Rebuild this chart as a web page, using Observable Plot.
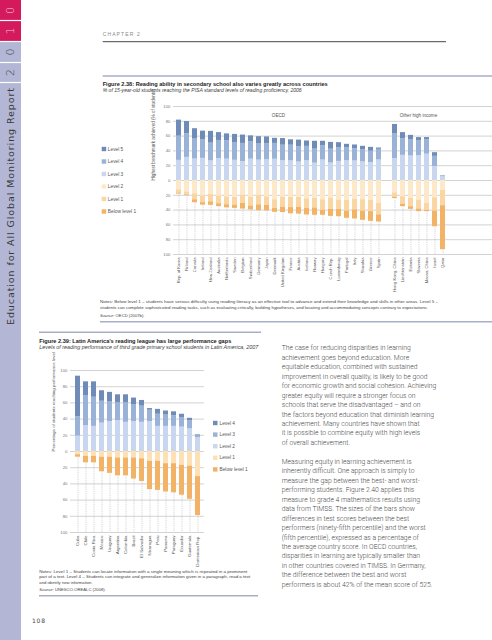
<!DOCTYPE html>
<html><head><meta charset="utf-8">
<script src="https://cdn.jsdelivr.net/npm/d3@7"></script>
<script src="https://cdn.jsdelivr.net/npm/@observablehq/plot@0.6"></script>
<style>
html,body{margin:0;padding:0;background:#fff;}
#page{position:relative;width:492px;height:640px;overflow:hidden;background:#fff;}
#deco{position:absolute;left:0;top:0;}
#c1{position:absolute;left:140px;top:100px;}
#c2{position:absolute;left:40px;top:360px;}
</style></head><body>
<div id="page"><svg id="deco" width="492" height="640"></svg><div id="c1"></div><div id="c2"></div></div>
<script>
// ---------- Figure 2.38 data (PISA 2006 reading, % of students) ----------
const countries38 = ["Rep. of Korea","Finland","Canada","Ireland","New Zealand","Australia","Netherlands","Sweden","Belgium","Switzerland","Germany","Japan","Denmark","United Kingdom","France","Austria","Iceland","Norway","Hungary","Czech Rep.","Luxembourg","Portugal","Italy","Slovakia","Greece","Spain","Hong Kong, China","Liechtenstein","Estonia","Slovenia","Macao, China","Israel","Qatar"];
const oecdCount38 = 26;
const level5_38 = [21.7,16.7,14.0,11.7,15.9,10.6,9.1,11.0,11.3,7.9,9.9,9.4,6.9,9.0,7.3,8.9,7.3,10.6,6.0,9.2,6.7,4.6,5.2,5.0,5.2,1.8,12.8,8.2,6.1,4.6,2.9,5.0,0.3];
const level4_38 = [32.7,31.8,27.0,25.1,24.0,24.5,25.1,24.0,24.5,23.6,21.8,21.5,21.4,20.7,21.2,20.7,19.5,19.0,19.4,18.7,18.6,17.3,16.4,16.1,15.4,14.4,33.2,22.5,21.7,20.0,19.5,13.6,1.2];
const level3_38 = [27.2,31.2,29.0,29.9,26.5,29.6,28.8,27.3,25.6,28.8,27.5,28.0,28.7,27.0,26.5,25.0,26.6,23.4,27.6,23.6,25.8,27.0,26.4,25.1,24.2,27.7,29.7,34.0,33.2,33.4,35.6,19.0,5.0];
const level2_38 = [12.5,15.5,18.0,21.0,19.0,21.5,22.2,22.9,19.8,22.6,20.6,22.0,26.0,22.7,22.8,23.0,25.0,24.1,26.0,23.7,26.3,27.0,25.7,25.9,27.0,30.9,16.7,21.9,24.0,26.5,30.8,23.4,13.5];
const level1_38 = [4.4,4.0,8.0,8.9,9.8,9.9,10.5,10.4,11.2,11.8,12.3,11.7,11.7,13.3,13.8,13.0,12.9,13.0,14.2,15.2,12.9,14.3,14.0,15.5,15.0,15.5,5.8,10.0,11.4,12.0,9.6,18.0,20.5];
const below1_38 = [1.5,0.8,4.0,3.4,4.8,3.9,4.3,4.4,7.6,5.3,7.9,7.4,5.3,7.3,8.4,9.4,8.7,9.9,6.8,9.6,9.7,9.8,12.3,12.4,13.2,9.7,1.8,3.4,3.6,3.5,1.6,21.0,59.5];
const levels38 = ["Level 5","Level 4","Level 3","Level 2","Level 1","Below level 1"];
const colors38 = ["#6f8cb9","#9ab2d8","#c8d7ef","#fde8c9","#fad6a2","#f2b367"];
const groupNames38 = ["OECD","Other high income"];

// ---------- Figure 2.39 data (SERCE, grade 3 reading, % of students) ----------
const countries39 = ["Cuba","Chile","Costa Rica","Mexico","Uruguay","Argentina","Colombia","Brazil","El Salvador","Nicaragua","Peru","Panama","Paraguay","Ecuador","Guatemala","Dominican Rep."];
const level4_39 = [50,17,19,13,12,10,10,8,7,2,6,5,5,4,3,0.5];
const level3_39 = [24,37,36,27,24,22,24,21,20,14,15,14,13,12,10,3.5];
const level2_39 = [19,32,31,35,37,38,36,37,36,37,31,31,31,30,28,17];
const level1_39 = [4,6,6,7,7,8,8,8,9,12,12,15,15,17,18,31];
const below1_39 = [3,8,8,18,20,22,22,26,28,35,36,35,36,37,41,48];
const levels39 = ["Level 4","Level 3","Level 2","Level 1","Below level 1"];
const colors39 = ["#6f8cb9","#9ab2d8","#c8d7ef","#fde0b3","#f2b367"];

const yTicks = d3.range(-100, 101, 20);

// ---------- page decoration / text ----------
const deco = d3.select("#deco");
const LAV = "#b3b7d5", PINK = "#d41a5c";
deco.append("rect").attr("x",0).attr("y",0).attr("width",21).attr("height",640).attr("fill",LAV);
deco.append("rect").attr("x",0).attr("y",0).attr("width",21).attr("height",41).attr("fill",PINK);
[20.5,41.5,62.5,82.5].forEach(y=>deco.append("line").attr("x1",0).attr("x2",21).attr("y1",y).attr("y2",y).attr("stroke","#fff").attr("stroke-width",1.2));
const digits = [["0",10.5,"#f6c6d6"],["1",31,"#f6c6d6"],["0",52,"#3a3a3a"],["2",72.5,"#3a3a3a"]];
digits.forEach(([t,y,c])=>deco.append("text").text(t).attr("transform",`translate(10.5,${y}) rotate(-90)`)
  .attr("text-anchor","middle").attr("dominant-baseline","central").attr("fill",c)
  .attr("font-family","DejaVu Sans").attr("font-size",11).attr("font-weight",300));
deco.append("text").text("Education for All Global Monitoring Report")
  .attr("transform","translate(10.8,325) rotate(-90)").attr("dominant-baseline","central")
  .attr("font-family","DejaVu Sans").attr("font-size",9.5).attr("fill","#3a3a3a")
  .attr("textLength",237).attr("lengthAdjust","spacing");

function txt(s, x, y, o={}) {
  const t = deco.append("text").attr("x",x).attr("y",y).attr("dominant-baseline","central")
    .attr("font-family", o.family || "Liberation Sans, Arial, sans-serif")
    .attr("font-size", o.size || 5).attr("fill", o.fill || "#333");
  if (o.weight) t.attr("font-weight", o.weight);
  if (o.style) t.attr("font-style", o.style);
  if (o.len) t.attr("textLength", o.len).attr("lengthAdjust", o.adj || "spacingAndGlyphs");
  if (o.ls) t.attr("letter-spacing", o.ls);
  if (Array.isArray(s)) s.forEach(([p,st])=>{ const ts=t.append("tspan").text(p); if(st) ts.attr("font-style",st); });
  else t.text(s);
  return t;
}
function hline(x1,x2,y,c,w){deco.append("line").attr("x1",x1).attr("x2",x2).attr("y1",y).attr("y2",y).attr("stroke",c).attr("stroke-width",w);}

txt("CHAPTER 2", 102.7, 34, {size:5, fill:"#8a8a8a", len:37, adj:"spacing"});
hline(102.7, 446, 41.7, "#333", 0.9);

hline(102.7, 492, 76, "#a9aec8", 1.6);
txt("Figure 2.38: Reading ability in secondary school also varies greatly across countries", 102.7, 83, {size:6.2, weight:"bold", fill:"#222", len:225});
txt("% of 15-year-old students reaching the PISA standard levels of reading proficiency, 2006", 102.7, 89.5, {size:5.2, style:"italic", fill:"#444", len:199});

// legend 2.38
levels38.forEach((l,i)=>{
  const y = 149 + i*12.5;
  deco.append("rect").attr("x",101.7).attr("y",y-2.2).attr("width",4.5).attr("height",4.4).attr("fill",colors38[i]);
  txt(l, 107.8, y, {size:4.8, fill:"#555"});
});

txt("Notes: Below level 1 \u2013 students have serious difficulty using reading literacy as an effective tool to advance and extend their knowledge and skills in other areas. Level 5 \u2013", 100, 301.7, {size:4.2, fill:"#444", len:338});
txt("students can complete sophisticated reading tasks, such as evaluating critically, building hypotheses, and locating and accommodating concepts contrary to expectations.", 100, 307.3, {size:4.2, fill:"#444", len:328});
txt([["Source:","italic"],[" OECD (2007b).",null]], 100, 314.7, {size:4.2, fill:"#444"});
hline(100, 492, 321.7, "#a9aec8", 1.6);

hline(39, 261, 332.3, "#a9aec8", 1.6);
txt("Figure 2.39: Latin America\u2019s reading league has large performance gaps", 39.3, 340, {size:6.2, weight:"bold", fill:"#222", len:192});
txt("Levels of reading performance of third grade primary school students in Latin America, 2007", 39.3, 346.7, {size:5.2, style:"italic", fill:"#444", len:219});

levels39.forEach((l,i)=>{
  const y = 423 + i*11.6;
  deco.append("rect").attr("x",213).attr("y",y-2.2).attr("width",4.5).attr("height",4.4).attr("fill",colors39[i]);
  txt(l, 219.5, y, {size:4.8, fill:"#555"});
});

txt("Notes: Level 1 \u2013 Students can locate information with a single meaning which is repeated in a prominent", 39.3, 571, {size:4.2, fill:"#444", len:208});
txt("part of a text. Level 4 \u2013 Students can integrate and generalize information given in a paragraph, read a text", 39.3, 576.7, {size:4.2, fill:"#444", len:211});
txt("and identify new information.", 39.3, 582.3, {size:4.2, fill:"#444"});
txt([["Source:","italic"],[" UNESCO-OREALC (2008).",null]], 39.3, 589.3, {size:4.2, fill:"#444"});
hline(39, 258, 595.7, "#a9aec8", 1.6);

txt("108", 32, 620, {size:6, fill:"#444", ls:0.8, family:"DejaVu Sans"});

const body1 = ["The case for reducing disparities in learning","achievement goes beyond education. More","equitable education, combined with sustained","improvement in overall quality, is likely to be good","for economic growth and social cohesion. Achieving","greater equity will require a stronger focus on","schools that serve the disadvantaged \u2013 and on","the factors beyond education that diminish learning","achievement. Many countries have shown that","it is possible to combine equity with high levels","of overall achievement."];
const body2 = ["Measuring equity in learning achievement is","inherently difficult. One approach is simply to","measure the gap between the best- and worst-","performing students. Figure 2.40 applies this","measure to grade 4 mathematics results using","data from TIMSS. The sizes of the bars show","differences in test scores between the best","performers (ninety-fifth percentile) and the worst","(fifth percentile), expressed as a percentage of","the average country score. In OECD countries,","disparities in learning are typically smaller than","in other countries covered in TIMSS. In Germany,","the difference between the best and worst","performers is about 42% of the mean score of 525."];
[...body1, null, ...body2].forEach((s,i)=>{ if(s) txt(s, 281.7, 348.3 + i*9.46, {size:6.8, fill:"#4a4a4a", family:"Roboto, sans-serif", weight:300}); });

// ---------- Chart 1 ----------
const rows38 = [];
countries38.forEach((c,i)=>{
  rows38.push({c, s:"Level 3", v: level3_38[i]});
  rows38.push({c, s:"Level 4", v: level4_38[i]});
  rows38.push({c, s:"Level 5", v: level5_38[i]});
  rows38.push({c, s:"Level 2", v: -level2_38[i]});
  rows38.push({c, s:"Level 1", v: -level1_38[i]});
  rows38.push({c, s:"Below level 1", v: -below1_38[i]});
});
const neg38 = countries38.map((c,i)=>({c, n: -(level2_38[i]+level1_38[i]+below1_38[i])}));
const slots38 = [...countries38.slice(0,oecdCount38), " ", ...countries38.slice(oecdCount38)];
const font = "Liberation Sans, Arial, sans-serif";

const chart1 = Plot.plot({
  width: 352, height: 200, marginLeft: 33, marginRight: 0, marginTop: 6, marginBottom: 46,
  style: {fontFamily: font, background: "transparent", overflow: "visible"},
  x: {type: "band", domain: slots38, range: [31.55, 308.95], padding: 0.35},
  y: {domain: [-100, 100], range: [154, 6]},
  color: {domain: levels38, range: colors38},
  marks: [
    Plot.ruleY(yTicks, {stroke: "#c8c8c8", strokeWidth: 0.8}),
    Plot.ruleX(neg38, {x: "c", y1: "n", y2: -100, stroke: "#a8a8a8", strokeWidth: 0.5, strokeDasharray: "1.2,1"}),
    Plot.barY(rows38, {x: "c", y: "v", fill: "s"}),
    Plot.axisY({ticks: yTicks, tickFormat: d => Math.abs(d), tickSize: 0, tickPadding: 3, fontSize: 4.3, fill: "#777", label: null}),
    Plot.axisX({tickRotate: -90, tickSize: 0, tickPadding: 3, fontSize: 4.2, fill: "#555", label: null, tickFormat: d => d.trim()}),
    Plot.text(["Highest benchmark achieved (% of students)"], {frameAnchor: "left", rotate: -90, dx: -20, fontSize: 4.6, fill: "#555"})
  ]
});
document.getElementById("c1").appendChild(chart1);
{
  const xs = chart1.scale("x");
  const groups = [[countries38[0], countries38[oecdCount38-1]], [countries38[oecdCount38], countries38[countries38.length-1]]];
  groups.forEach(([a,b],i)=>{
    const cx = (xs.apply(a) + xs.apply(b))/2 + xs.bandwidth/2;
    d3.select(chart1).append("text").attr("x", cx).attr("y", 15).attr("text-anchor","middle")
      .attr("dominant-baseline","central").attr("font-size",4.6).attr("fill","#555").attr("font-family",font).text(groupNames38[i]);
  });
}

// ---------- Chart 2 ----------
const rows39 = [];
countries39.forEach((c,i)=>{
  rows39.push({c, s:"Level 2", v: level2_39[i]});
  rows39.push({c, s:"Level 3", v: level3_39[i]});
  rows39.push({c, s:"Level 4", v: level4_39[i]});
  rows39.push({c, s:"Level 1", v: -level1_39[i]});
  rows39.push({c, s:"Below level 1", v: -below1_39[i]});
});
const neg39 = countries39.map((c,i)=>({c, n: -(level1_39[i]+below1_39[i])}));
const chart2 = Plot.plot({
  width: 170, height: 210, marginLeft: 30, marginRight: 6, marginTop: 10, marginBottom: 38,
  style: {fontFamily: font, background: "transparent", overflow: "visible"},
  x: {type: "band", domain: countries39, range: [32.07, 163.73], padding: 0.35},
  y: {domain: [-100, 100], range: [172, 10]},
  color: {domain: levels39, range: colors39},
  marks: [
    Plot.ruleY(yTicks, {stroke: "#c8c8c8", strokeWidth: 0.8}),
    Plot.ruleX(neg39, {x: "c", y1: "n", y2: -100, stroke: "#a8a8a8", strokeWidth: 0.5, strokeDasharray: "1.2,1"}),
    Plot.barY(rows39, {x: "c", y: "v", fill: "s"}),
    Plot.axisY({ticks: yTicks, tickFormat: d => Math.abs(d), tickSize: 0, tickPadding: 3, fontSize: 4.3, fill: "#777", label: null}),
    Plot.axisX({tickRotate: -90, tickSize: 0, tickPadding: 3, fontSize: 4.4, fill: "#555", label: null}),
    Plot.text(["Percentage of students reaching performance level"], {frameAnchor: "left", rotate: -90, dx: -16.7, fontSize: 4.4, fill: "#555"})
  ]
});
document.getElementById("c2").appendChild(chart2);
</script>
</body></html>
